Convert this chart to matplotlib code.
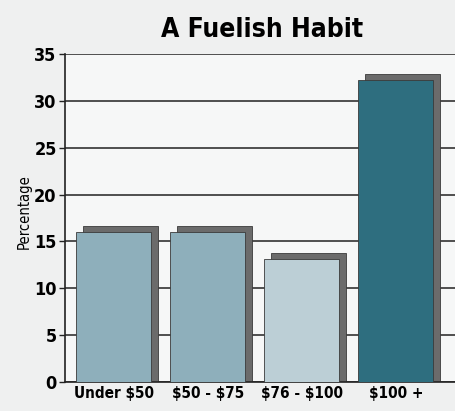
import matplotlib.pyplot as plt
import numpy as np

categories = ["Under $50", "$50 - $75", "$76 - $100", "$100 +"]
values = [16.0, 16.0, 13.1, 32.2]
colors = ["#8eafbb", "#8eafbb", "#bccfd6", "#2e6e7f"]
yticks = [0, 5, 10, 15, 20, 25, 30, 35]

plt.rcParams["text.parse_math"] = False  # keep the $ signs literal

font = "DejaVu Sans"
stretch = "condensed"

fig = plt.figure(figsize=(4.56, 4.11), dpi=100)
fig.patch.set_facecolor("#eff0f0")
ax = fig.add_axes([65 / 456, 29 / 411, 1 - 65 / 456, 328 / 411])
ax.set_facecolor("#f6f7f7")

x = np.arange(len(categories))
w = 0.8

# shadow behind each bar
ax.bar(x + 0.075, np.array(values) + 0.65, width=w, color="#6b6b6b",
       edgecolor="#3a3a3a", linewidth=0.6, zorder=2)
ax.bar(x, values, width=w, color=colors, edgecolor="#3a3a3a",
       linewidth=0.6, zorder=3)

ax.set_xlim(-0.516, 3.64)
ax.set_ylim(0, 35)
ax.set_yticks(yticks)
ax.set_yticklabels([str(t) for t in yticks], fontfamily=font,
                   fontstretch=stretch, fontweight="bold", fontsize=13)
ax.set_xticks(x)
ax.set_xticklabels(categories, fontfamily=font, fontstretch=stretch,
                   fontweight="bold", fontsize=11)
ax.tick_params(axis="y", length=4, width=1, color="#222222", pad=2)
ax.tick_params(axis="x", length=0, pad=3)
ax.yaxis.grid(True, color="#222222", linewidth=1.1, zorder=1)
ax.set_axisbelow(True)

for s in ["top", "right"]:
    ax.spines[s].set_visible(False)
ax.spines["left"].set_linewidth(1.2)
ax.spines["bottom"].set_linewidth(1.2)
ax.spines["left"].set_color("#222222")
ax.spines["bottom"].set_color("#222222")

ax.set_ylabel("Percentage", fontfamily=font, fontstretch=stretch,
              fontsize=10.5)
ax.yaxis.set_label_coords(-0.084, 0.52)
fig.text(262 / 456, 1 - 30 / 411, "A Fuelish Habit", ha="center",
         va="center", fontfamily=font, fontstretch=stretch,
         fontweight="bold", fontsize=19)

fig.savefig("out.png", dpi=100, facecolor=fig.get_facecolor())
